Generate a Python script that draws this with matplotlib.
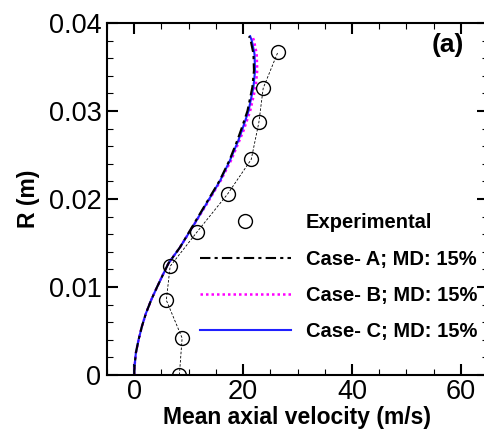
import numpy as np
import matplotlib
matplotlib.use('Agg')
from matplotlib import pyplot as plt
from matplotlib.ticker import MultipleLocator

plt.rcParams['font.family'] = ['Liberation Sans', 'DejaVu Sans']

# 实验数据
exp_u = [8.3, 8.8, 5.9, 6.6, 11.6, 17.2, 21.5, 22.9, 23.7, 26.4]
exp_r = [0.0, 0.0042, 0.0085, 0.01235, 0.0163, 0.0206, 0.0245, 0.0287, 0.0326, 0.0367]

# 模拟结果 (三个工况几乎重合)
sim_r = [0.0, 0.0009, 0.0025, 0.004, 0.0055, 0.007, 0.0085, 0.010, 0.0113, 0.0127,
         0.0145, 0.017, 0.0195, 0.0221, 0.0244, 0.0266, 0.0278, 0.030, 0.0327,
         0.0346, 0.0365, 0.038, 0.0385]
case_a = [0.0, 0.05, 0.3, 0.8, 1.4, 2.15, 3.1, 4.2, 5.2, 6.3,
          8.4, 10.8, 13.2, 15.7, 17.5, 18.9, 19.6, 20.8, 21.7,
          22.0, 21.9, 21.4, 21.1]
case_b = [0.0, 0.05, 0.3, 0.8, 1.4, 2.15, 3.1, 4.2, 5.2, 6.3,
          8.4, 10.9, 13.4, 15.9, 17.8, 19.3, 20.1, 21.3, 22.3,
          22.6, 22.5, 22.0, 21.7]
case_c = [0.0, 0.05, 0.3, 0.8, 1.4, 2.15, 3.1, 4.2, 5.2, 6.3,
          8.4, 10.9, 13.3, 15.8, 17.6, 19.1, 19.8, 21.0, 21.9,
          22.2, 22.1, 21.6, 21.3]

fig = plt.figure(figsize=(4.85, 4.29), dpi=100)
ax = fig.add_axes([107 / 485, 1 - 375 / 429, 381 / 485, 352 / 429])

ax.plot(exp_u, exp_r, color='k', lw=0.6, ls=(0, (3, 2)), zorder=3)
ax.plot(exp_u, exp_r, ls='none', marker='o', ms=10, mfc='none', mec='k', mew=1.0,
        label='Experimental', zorder=3)
ax.plot(case_a, sim_r, color='k', lw=1.5, ls=(0, (5, 2, 1.5, 2)), label='Case- A; MD: 15%', zorder=4)
ax.plot(case_b, sim_r, color='#ff00ff', lw=1.8, ls=(0, (1, 1.2)), label='Case- B; MD: 15%', zorder=2)
ax.plot(case_c, sim_r, color='#2020ff', lw=1.5, ls='-', label='Case- C; MD: 15%', zorder=2)

ax.set_xlim(-5, 65)
ax.set_ylim(0, 0.04)
ax.xaxis.set_major_locator(MultipleLocator(20))
ax.xaxis.set_minor_locator(MultipleLocator(5))
ax.yaxis.set_minor_locator(MultipleLocator(0.002))
ax.set_yticks([0, 0.01, 0.02, 0.03, 0.04])
ax.set_yticklabels(['0', '0.01', '0.02', '0.03', '0.04'])
ax.tick_params(which='both', direction='in', top=True, right=True, labelsize=19.5)
ax.tick_params(which='major', length=8, width=1.5)
ax.tick_params(which='minor', length=4, width=0.8)
ax.tick_params(axis='x', pad=3)
ax.tick_params(axis='y', pad=4)
for s in ax.spines.values():
    s.set_linewidth(1.5)

ax.set_xlabel('Mean axial velocity (m/s)', fontsize=16.5, fontweight='bold', labelpad=0.5)
ax.set_ylabel('R (m)', fontsize=16.5, fontweight='bold', labelpad=6)

ax.text(0.937, 0.9375, '(a)', transform=ax.transAxes, fontsize=19, fontweight='bold',
        ha='right', va='center')

leg = ax.legend(loc='upper left', bbox_to_anchor=(0.244, 0.459), frameon=False,
                prop={'size': 14.5, 'weight': 'bold'}, handlelength=4.5,
                handletextpad=0.75, labelspacing=0.86, borderpad=0, borderaxespad=0)

plt.savefig('out.png', dpi=100)
